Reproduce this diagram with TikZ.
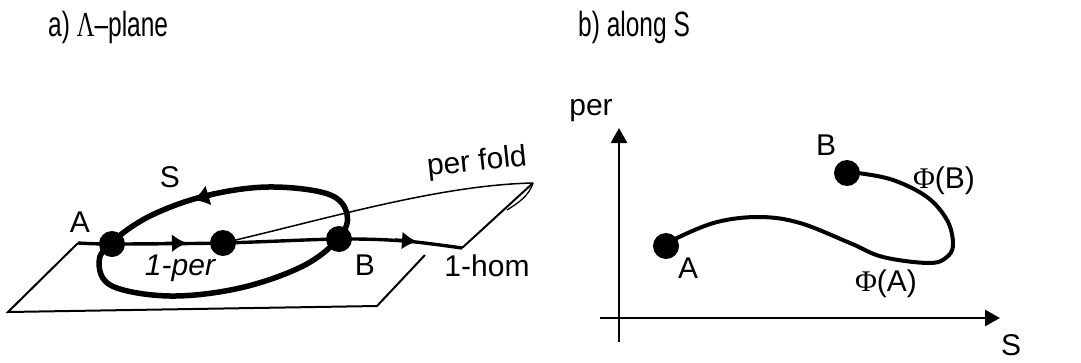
\documentclass[tikz,border=0pt]{standalone}
\usepackage{fontspec}
\setmainfont{Liberation Sans}
\newfontfamily\grk{Liberation Serif}
\usetikzlibrary{arrows.meta}
\begin{document}
\begin{tikzpicture}[x=1pt,y=-1pt,
  lbl/.style={font=\fontsize{30}{34}\selectfont, inner sep=0pt},
  ttl/.style={anchor=west, inner sep=0pt},
  dot/.style={circle, fill=black, inner sep=0pt, minimum size=26pt},
  edge2/.style={line width=2pt, line join=miter},
  homline/.style={line width=3.4pt},
  loopline/.style={line width=5.5pt},
  foldline/.style={line width=1.5pt},
  axis/.style={line width=2.7pt, -{Triangle[length=15pt,width=16pt]}},
  curveline/.style={line width=4pt},
  tip/.style={-{Latex[length=15pt,width=18pt]}}]
\useasboundingbox (0,0) rectangle (1081,362);

% titles
\node[ttl] (ta) at (48,27) {\scalebox{0.7}[1]{\fontsize{35}{40}\selectfont a) {\grk Λ}–plane}};
\node[ttl] (tb) at (578,27) {\scalebox{0.7}[1]{\fontsize{35}{40}\selectfont b) along S}};

% ---------- panel a ----------
\coordinate (pc) at (78,243);
\coordinate (pbl) at (8,312);
\coordinate (pbr) at (377,306);
\coordinate (pre) at (425,255);
\coordinate (hend) at (462,248);
\coordinate (fc) at (533,183);
\coordinate (hk) at (507,210);

\draw[edge2] (pc) -- (pbl) -- (pbr) -- (pre);
\draw[edge2] (hend) -- (fc);
\draw[foldline] (223,243) .. controls (330,218) and (440,185) .. (fc);
\draw[line width=1.3pt] (fc) .. controls (529,196) and (518,203) .. (hk);

% 1-hom line
\draw[homline, line join=round] plot[smooth, tension=0.5] coordinates
  {(78,243) (112,244) (223,243) (339,239) (405,241) (462,248)};
\draw[homline, tip] (165,243.3) -- (187,243);
\draw[homline, tip] (395,240) -- (417,241.5);

% loop S
\draw[loopline] plot[smooth cycle, tension=0.6] coordinates
  {(112,242) (99,262) (112,286) (170,296) (240,288) (303,266) (339,238)
   (347,214) (328,194) (268,187) (205,196) (150,216)};
\draw[line width=5pt, -{Latex[length=16pt,width=21pt]}] (215,193.5) -- (193,200);

\node[dot] (A) at (112,244) {};
\node[dot] (M) at (223,243) {};
\node[dot] (B) at (339,239) {};

\node[lbl] (lS) at (170,177) {S};
\node[lbl] (lA) at (80,222) {A};
\node[lbl] (lB) at (365,265) {B};
\node[lbl, font=\fontsize{30}{34}\selectfont\itshape] (lper) at (180,268) {1-per};
\node[lbl] (lhom) at (487,266) {1-hom};
\node[lbl, rotate=6] (lfold) at (477,163) {per fold};

% ---------- panel b ----------
\coordinate (ybot) at (619,342);
\coordinate (ytop) at (619,128);
\coordinate (xl) at (600,318);
\coordinate (xr) at (1000,318);
\draw[axis] (ybot) -- (ytop);
\draw[axis] (xl) -- (xr);

\draw[curveline] plot[smooth, tension=0.6] coordinates
  {(666,246) (677,238) (717,222) (760,217) (800,223) (850,243) (883,257)
   (930,263) (948,256) (953,243) (947,220) (927,197) (893,180) (858,173) (847,173)};

\node[dot] (pA) at (666,246) {};
\node[dot] (pB) at (847,173) {};

\node[lbl] (rper) at (591,111) {per};
\node[lbl] (rS) at (1011,345) {S};
\node[lbl] (rA) at (688,268) {A};
\node[lbl] (rB) at (826,145) {B};
\node[lbl] (phB) at (944,181) {{\grk Φ}(B)};
\node[lbl] (phA) at (886,284) {{\grk Φ}(A)};
\end{tikzpicture}
\end{document}
